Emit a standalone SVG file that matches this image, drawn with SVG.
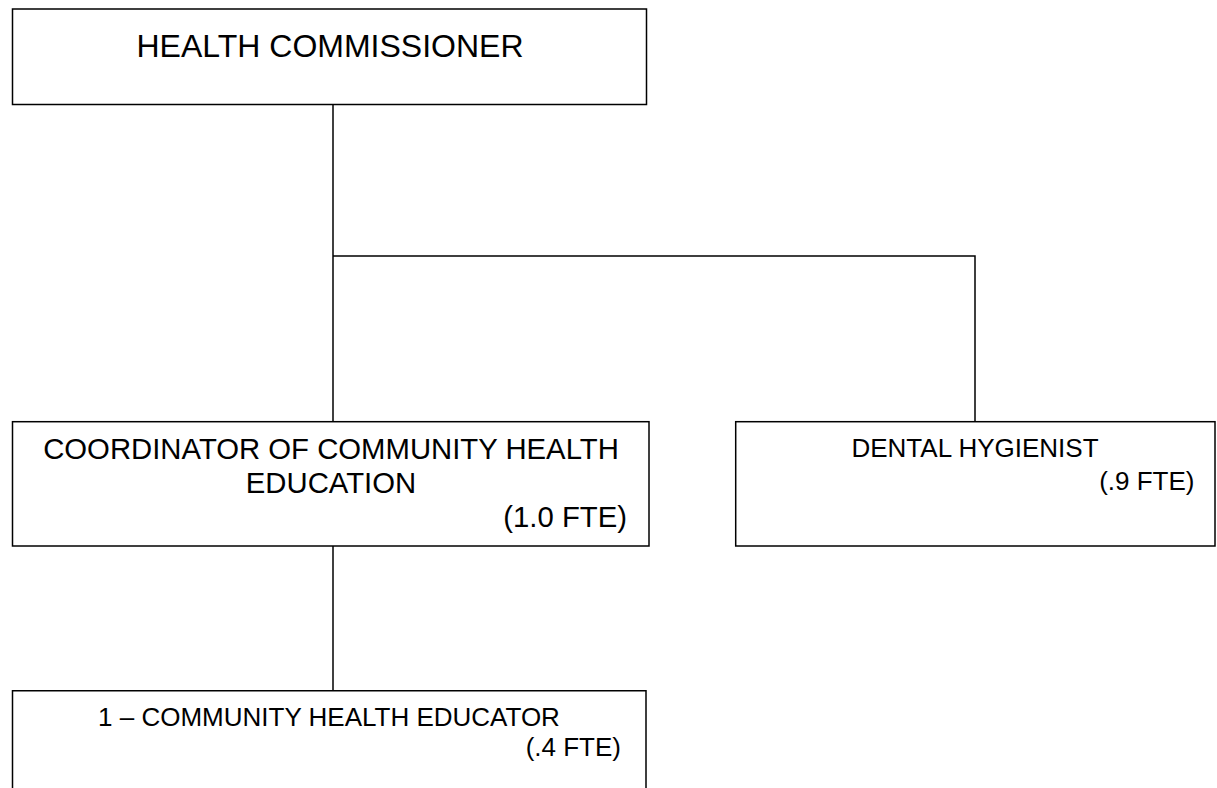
<svg xmlns="http://www.w3.org/2000/svg" width="1217" height="788" viewBox="0 0 1217 788">
<style>
.box{fill:#fff;stroke:#000;stroke-width:1.5}
.conn{fill:none;stroke:#000;stroke-width:1.5}
text{font-family:"Liberation Sans",Arial,sans-serif;fill:#000}
.c{text-anchor:middle}
.r{text-anchor:end}
</style>
<rect width="1217" height="788" fill="#fff"/>
<g id="connectors">
<path class="conn" d="M333,104.5 V421.7"/>
<path class="conn" d="M333,256 H975 V421.7"/>
<path class="conn" d="M333,546 V690.7"/>
</g>
<g id="health-commissioner">
<rect class="box" x="12.5" y="9" width="634" height="95.5"/>
<text class="c" x="330" y="57" font-size="32">HEALTH COMMISSIONER</text>
</g>
<g id="coordinator">
<rect class="box" x="12.5" y="421.7" width="636.5" height="124.3"/>
<text class="c" x="331" y="459" font-size="29.3">COORDINATOR OF COMMUNITY HEALTH</text>
<text class="c" x="331" y="493" font-size="29.3">EDUCATION</text>
<text class="r" x="627" y="527" font-size="29.3">(1.0 FTE)</text>
</g>
<g id="dental-hygienist">
<rect class="box" x="735.7" y="421.7" width="479.3" height="124.3"/>
<text class="c" x="975" y="457" font-size="26">DENTAL HYGIENIST</text>
<text class="r" x="1194.5" y="490" font-size="26">(.9 FTE)</text>
</g>
<g id="community-health-educator">
<path class="box" d="M12.5,795 V690.7 H646 V795"/>
<text class="c" x="329" y="726" font-size="26">1 – COMMUNITY HEALTH EDUCATOR</text>
<text class="r" x="621" y="756" font-size="26">(.4 FTE)</text>
</g>
</svg>
